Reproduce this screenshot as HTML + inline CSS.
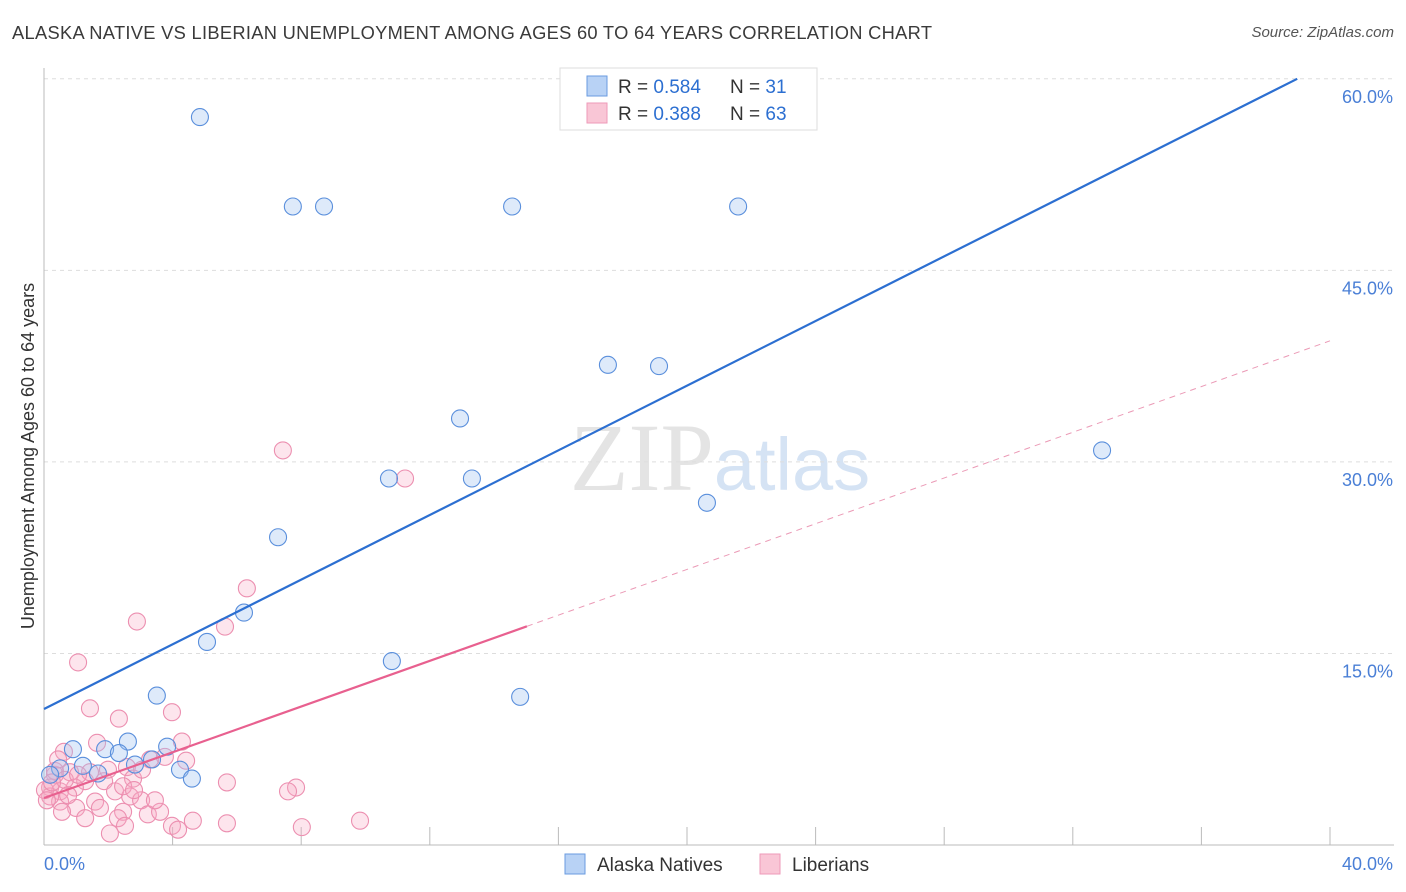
<!DOCTYPE html>
<html><head><meta charset="utf-8"><style>
body{margin:0;background:#fff;font-family:"Liberation Sans",sans-serif;}
#wrap{position:relative;width:1406px;height:892px;overflow:hidden;}
.title{position:absolute;left:12px;top:22px;font-size:18.3px;color:#3a3a3a;letter-spacing:0.3px;}
.src{position:absolute;right:12px;top:24px;font-size:15px;color:#555;font-style:italic;}
</style></head><body>
<div id="wrap">
<div class="title">ALASKA NATIVE VS LIBERIAN UNEMPLOYMENT AMONG AGES 60 TO 64 YEARS CORRELATION CHART</div>
<div class="src">Source: ZipAtlas.com</div>
<svg id="svg" width="1406" height="892" style="position:absolute;left:0;top:0"></svg>
</div>
<script>
const yTicks=[15,30,45,60];
const yTickLabels=["15.0%","30.0%","45.0%","60.0%"];
const xTickVals=[0,4,8,12,16,20,24,28,32,36,40];
const blueX=[4.85,7.74,8.71,14.56,21.59,17.54,19.13,12.94,10.73,13.31,32.91,20.62,7.28,6.22,5.07,10.82,14.81,3.51,2.61,1.90,0.90,3.83,2.33,3.36,2.83,0.50,1.21,1.68,4.23,4.60,0.19];
const blueY=[57.0,50,50,50,50,37.6,37.5,33.4,28.7,28.7,30.9,26.8,24.1,18.2,15.9,14.4,11.6,11.7,8.1,7.5,7.5,7.7,7.2,6.7,6.3,6.0,6.2,5.6,5.9,5.2,5.5];
const pinkX=[7.43,11.23,6.31,2.89,5.63,1.06,1.43,2.33,3.98,1.65,4.29,0.62,3.3,4.42,2.58,3.76,0.34,0.81,1.28,1.87,2.77,5.69,7.84,7.59,0.19,0.5,0.96,2.21,2.68,3.02,1.59,0.5,0.19,2.46,1.74,1.0,1.28,2.46,3.23,3.61,2.3,2.52,2.05,3.98,4.17,4.63,5.69,8.02,9.83,0.34,0.65,0.03,0.25,0.75,1.43,3.05,3.45,1.99,0.44,1.06,2.8,0.09,0.56];
const pinkY=[30.9,28.7,20.1,17.5,17.1,14.3,10.7,9.9,10.4,8.0,8.1,7.3,6.7,6.6,6.1,6.9,5.5,5.7,5.0,5.0,5.2,4.9,4.5,4.2,4.5,4.2,4.5,4.2,3.8,3.5,3.4,3.4,3.8,4.6,2.9,2.9,2.1,2.6,2.4,2.6,2.1,1.5,0.9,1.5,1.2,1.9,1.7,1.4,1.9,5.8,5.1,4.3,4.9,3.9,5.7,5.9,3.5,5.9,6.7,5.5,4.3,3.5,2.6];
const blueFit=[10.65,1.266];
const pinkFit=[3.68,0.895];
const pinkSolidEnd=15.02;

const X=v=>44+v*32.15, Y=v=>845-v*12.77;
const svg=document.getElementById('svg');
const NS='http://www.w3.org/2000/svg';
function mk(t,a,p){const e=document.createElementNS(NS,t);for(const k in a)e.setAttribute(k,a[k]);(p||svg).appendChild(e);return e;}

const wm=mk('text',{x:720,y:490,'text-anchor':'middle','font-size':96,fill:'#e4e4e4','font-family':'Liberation Serif, serif'});


wm.innerHTML='ZIP<tspan font-family="Liberation Sans, sans-serif" font-size="74" fill="#d5e3f4">atlas</tspan>';

yTicks.forEach((v,i)=>{
 const g=mk('line',{x1:44,x2:1394,y1:Y(v),y2:Y(v),stroke:'#ddd','stroke-dasharray':'4,4'});
 
 
 const t=mk('text',{x:1393,y:Y(v)+24,'text-anchor':'end','font-size':18,fill:'#4a7fd6'});
 
 
 t.textContent=yTickLabels[i];
});
const ya=mk('line',{x1:44,x2:44,y1:68,y2:845,stroke:'#bbb'});


const xa=mk('line',{x1:44,x2:1394,y1:845,y2:845,stroke:'#bbb'});


xTickVals.forEach(v=>{
 const t=mk('line',{x1:X(v),x2:X(v),y1:827,y2:845,stroke:'#bbb'});
 
 
});
const xl0=mk('text',{x:44,y:870,'font-size':18,fill:'#4a7fd6'});


xl0.textContent='0.0%';
const xl1=mk('text',{x:1393,y:870,'text-anchor':'end','font-size':18,fill:'#4a7fd6'});


xl1.textContent='40.0%';
const yt=mk('text',{x:34,y:456,'text-anchor':'middle','font-size':18,fill:'#333',transform:'rotate(-90 34 456)'});


yt.textContent='Unemployment Among Ages 60 to 64 years';

pinkX.forEach((x,i)=>{
 const c=mk('circle',{cx:X(x),cy:Y(pinkY[i]),r:8.5,fill:'rgba(248,170,195,0.3)',stroke:'#ec8fb0','stroke-width':1.1});
 
 
});
blueX.forEach((x,i)=>{
 const c=mk('circle',{cx:X(x),cy:Y(blueY[i]),r:8.5,fill:'rgba(160,195,240,0.35)',stroke:'#5a8fdc','stroke-width':1.1});
 
 
});
const bEnd=(60-blueFit[0])/blueFit[1];
const bl=mk('line',{x1:X(0),y1:Y(blueFit[0]),x2:X(bEnd),y2:Y(60),stroke:'#2c6fd1','stroke-width':2.2});


const pl=mk('line',{x1:X(0),y1:Y(pinkFit[0]),x2:X(pinkSolidEnd),y2:Y(pinkFit[0]+pinkFit[1]*pinkSolidEnd),stroke:'#e8608f','stroke-width':2.2});


const pd=mk('line',{x1:X(pinkSolidEnd),y1:Y(pinkFit[0]+pinkFit[1]*pinkSolidEnd),x2:X(40),y2:Y(pinkFit[0]+pinkFit[1]*40),stroke:'#eb9ab6','stroke-width':1,'stroke-dasharray':'6,5'});



const lg=mk('g',{});


mk('rect',{x:560,y:68,width:257,height:62,fill:'#fff',stroke:'#ddd'},lg);
[[0,'#b8d2f5','#6a9be0','0.584','31'],[1,'#f9c6d6','#ee9ab8','0.388','63']].forEach(r=>{
 const y=86+r[0]*27;
 mk('rect',{x:587,y:y-10,width:20,height:20,fill:r[1],stroke:r[2]},lg);
 const t=mk('text',{x:618,y:y+7,'font-size':19,fill:'#333'},lg);
 t.innerHTML='R = <tspan fill="#2c6fd1">'+r[3]+'</tspan><tspan x="730">N = </tspan><tspan fill="#2c6fd1">'+r[4]+'</tspan>';
});
[[565,'#b8d2f5','#6a9be0','Alaska Natives','legend-alaska-natives'],[760,'#f9c6d6','#ee9ab8','Liberians','legend-liberians']].forEach(r=>{
 const g=mk('g',{});
 
 
 mk('rect',{x:r[0],y:854,width:20,height:20,fill:r[1],stroke:r[2]},g);
 const t=mk('text',{x:r[0]+32,y:871,'font-size':19,fill:'#333'},g);
 t.textContent=r[3];
});
</script>
</body></html>
